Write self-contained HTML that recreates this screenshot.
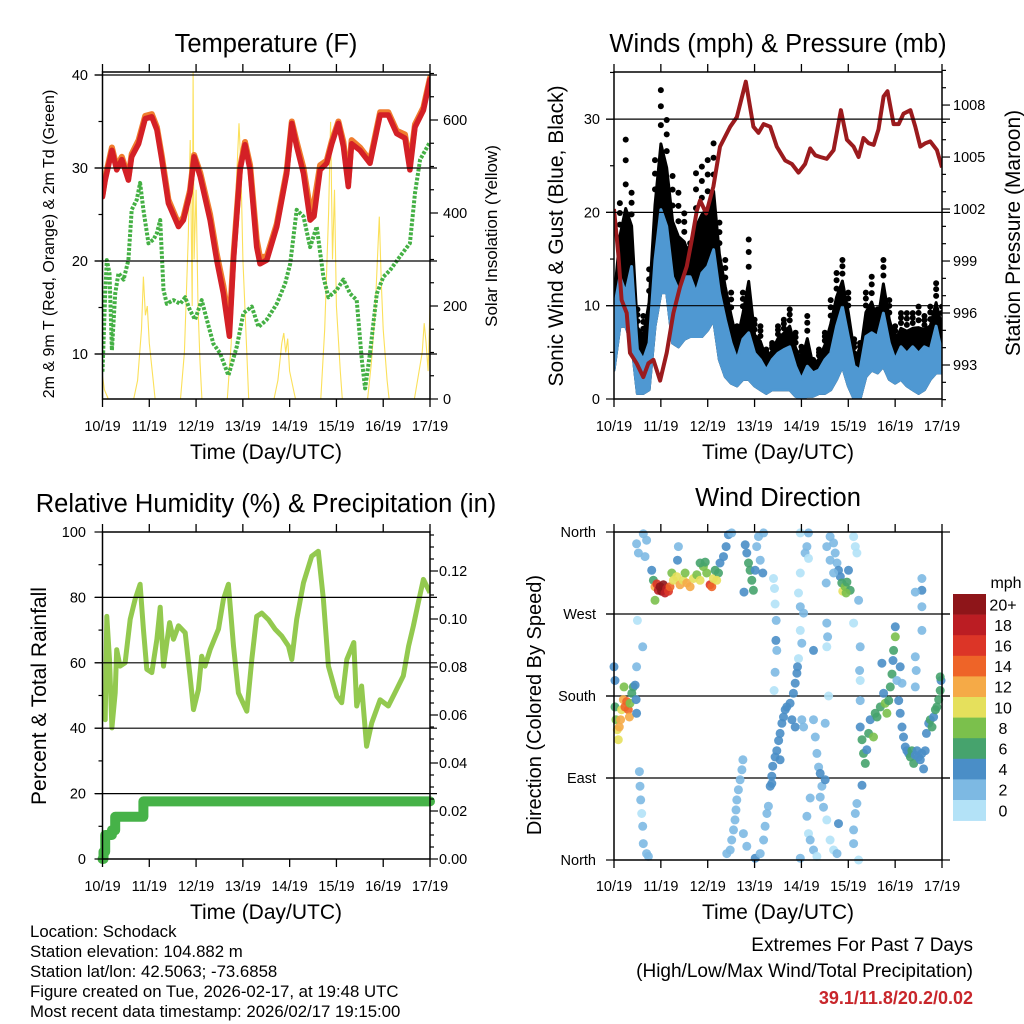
<!DOCTYPE html>
<html><head><meta charset="utf-8"><style>
html,body{margin:0;padding:0;background:#fff;}
svg{display:block;font-family:"Liberation Sans",Arial,sans-serif;}
</style></head><body>
<svg id="fig" width="1024" height="1024" viewBox="0 0 1024 1024" xmlns="http://www.w3.org/2000/svg">
<rect width="1024" height="1024" fill="#fff"/>
<g font-size="25.5" text-anchor="middle" fill="#000">
<text x="266" y="52">Temperature (F)</text>
<text x="778" y="52">Winds (mph) &amp; Pressure (mb)</text>
<text x="266" y="512">Relative Humidity (%) &amp; Precipitation (in)</text>
<text x="778" y="506">Wind Direction</text>
</g>
<g font-size="21" text-anchor="middle" fill="#000">
<text x="266" y="459">Time (Day/UTC)</text>
<text x="778" y="459">Time (Day/UTC)</text>
<text x="266" y="919">Time (Day/UTC)</text>
<text x="778" y="919">Time (Day/UTC)</text>
<text transform="translate(54,244) rotate(-90)" font-size="16">2m &amp; 9m T (Red, Orange) &amp; 2m Td (Green)</text>
<text transform="translate(497,236) rotate(-90)" font-size="17">Solar Insolation (Yellow)</text>
<text transform="translate(563,236) rotate(-90)">Sonic Wind &amp; Gust (Blue, Black)</text>
<text transform="translate(1020,233) rotate(-90)">Station Pressure (Maroon)</text>
<text transform="translate(46,696) rotate(-90)">Percent &amp; Total Rainfall</text>
<text transform="translate(541,705) rotate(-90)" font-size="20">Direction (Colored By Speed)</text>
</g>
<g id="panels"></g>
<g font-size="16.8" fill="#000">
<text x="30" y="937">Location: Schodack</text>
<text x="30" y="957">Station elevation: 104.882 m</text>
<text x="30" y="977">Station lat/lon: 42.5063; -73.6858</text>
<text x="30" y="997">Figure created on Tue, 2026-02-17, at 19:48 UTC</text>
<text x="30" y="1017">Most recent data timestamp: 2026/02/17 19:15:00</text>
</g>
<g text-anchor="end">
<text x="973" y="951" font-size="19">Extremes For Past 7 Days</text>
<text x="973" y="977" font-size="19">(High/Low/Max Wind/Total Precipitation)</text>
<text x="973" y="1004" font-size="18" font-weight="bold" fill="#c8262b">39.1/11.8/20.2/0.02</text>
</g>
</svg>
<script>
// ---------- DATA ----------
const dayLabels = ["10/19","11/19","12/19","13/19","14/19","15/19","16/19","17/19"];
// Temperature (hours since start, deg F)
const tempHours = [0,1.4,4.8,7.3,9.9,13.3,15,18.5,21.9,25.3,27.9,30.4,33.8,39,41.5,44.9,47,50.1,55.2,58.6,62,65.1,67.2,70.6,73.1,75.7,79.1,80.8,84.3,89.4,94.5,97.1,99.6,103.1,106.5,108.5,111.6,115,117.6,121,123.6,126.1,127.8,132.1,137.2,142.4,146.6,150.9,155.2,157.7,160.3,164.6,168];
const temp2m = [26.9,28.7,31.9,29.8,30.9,28.7,31.2,32.6,35.3,35.5,34.1,30.9,26.2,23.7,24.4,27.3,31.2,29.1,24.4,20.1,16.5,11.9,20.1,29.8,32.5,29.8,21.5,19.7,20.1,23.7,29.4,34.8,32.3,29.4,24.4,24.8,29.8,30.5,32.6,34.8,32.3,28,32.6,31.9,30.5,35.7,35.7,33.7,33.2,29.8,34.4,36.2,39.5];
const temp9m = [27.1,29.0,32.2,30.1,31.2,29.0,31.5,33.0,35.6,35.8,34.4,31.3,26.6,24.0,24.7,27.6,31.4,29.5,25.0,20.8,17.3,13.0,20.6,30.1,32.8,30.3,22.3,20.4,20.5,24.0,29.7,35.0,32.8,30.0,25.6,26.2,30.3,30.8,32.9,35.0,32.8,28.5,33.0,32.2,30.8,36.0,36.0,34.0,33.6,30.4,34.7,36.5,39.7];
const dewHours = [0,1.4,2.2,3.6,4.8,6.5,8.2,10.8,13.3,15,17.6,19.3,21,23.6,26.1,27.9,29.6,31.3,33,36.4,39.8,42.4,44.9,47.5,50.9,53.5,56.9,60.3,64.6,68.9,72.3,76.6,80,84.3,89.4,93.7,96.3,99.6,103.1,106.5,109.9,113.3,115.9,120.2,123.6,127,130.4,133,134.7,137.2,140.7,144.1,147.5,152.6,157.7,160.3,162.9,168];
const dewPoint = [8.1,16.5,20.1,18.7,10.4,16.5,18.7,18,20.1,25.5,26.6,28.4,25.5,21.9,22.3,23,24.4,16.9,15.4,15.8,15.4,16.1,14.7,13.7,15.8,13.7,11.1,10.1,7.7,10.8,14.4,15.1,12.9,13.7,15.4,17.6,19.7,25.5,24.8,21.5,23.7,18.3,16.1,16.9,18,16.5,15.8,9.4,6.3,10.1,16.5,18.3,19,20.5,21.9,27.3,30.9,32.8];
// Solar insolation (W/m2)
const solarHours = [0,1,3,16,18,20,21,22,23,24,26,27,40,42,44,45,46,46.5,47,48,49,50,51,64,66,68,70,71,72,74,75,88,90,92,93,94,95,96,98,99,112,114,116,117,118,119,120,122,123,136,138,140,141,142,143,144,146,147,160,162,164,165,166,167,168];
const solarVals = [50,20,0,0,40,150,263,180,200,120,40,0,0,100,350,557,200,703,300,450,200,80,0,0,120,400,593,500,300,100,0,0,40,120,142,100,130,60,20,0,0,150,400,596,300,450,200,60,0,0,80,200,300,392,250,150,40,0,0,50,100,163,120,60,200];
// Winds (3-hourly, mph)
const windHours = [0,3,6,9,12,15,18,21,24,27,30,33,36,39,42,45,48,51,54,57,60,63,66,69,72,75,78,81,84,87,90,93,96,99,102,105,108,111,114,117,120,123,126,129,132,135,138,141,144,147,150,153,156,159,162,165,168];
const gustHigh = [11.4,21,27.8,22.1,9.6,8.9,13.9,25.6,33.1,29.9,23.9,22.1,19.9,16.7,24.2,24.9,25.6,27.4,18.9,14.9,11.4,7.8,11.4,17.1,8.5,7.8,5.3,6,7.8,8.5,9.6,7.1,5.6,8.9,4.2,5.3,7.1,10.6,13.5,14.9,11.4,6.4,6,11.4,13.1,9.6,14.9,10.6,7.8,9.2,9.2,9.2,9.9,8.9,9.9,12.4,9.9];
const windHigh = [9.6,13.1,11.4,14.2,5.3,4.2,6,14.9,20.3,18.5,13.1,11.7,13.1,13.1,11.4,13.5,14.2,16,11.4,8.5,6,4.2,6.4,7.1,4.9,4.2,3.1,4.2,4.9,5.3,5.6,3.5,2.1,3.5,2.8,3.1,4.2,4.9,7.8,9.9,6.7,3.5,3.1,6.7,7.1,6.7,9.2,6,4.2,5.6,4.9,5.6,4.9,5.6,5.3,7.8,4.9];
const windLow = [3.1,7.8,7.8,6,0.6,0.6,1,7.8,11.4,11.4,6,5.6,6.4,6.7,6.7,6.7,7.4,8.5,4.2,2.4,1.7,1.4,2.1,2.1,1.4,1,0.6,1,1,1,1,0.3,0,0.3,0.3,0.6,0.6,1,2.1,3.5,1.4,0,0,2.4,3.1,2.8,3.5,2.1,1.7,2.1,1.4,1,0.6,1,2.1,2.8,2.8];
// Pressure (mb)
const presHours = [0,2.2,3.9,6.5,8.2,11.6,15,17.6,20.2,23.6,27,30.4,33.8,37.3,39.8,42.4,44.1,47.2,50.9,54.3,59.5,62.9,67.5,71.4,74,76.6,80,83.4,87.7,91.1,94.5,97.9,100.5,103.1,105.6,109,112.5,116.2,119.3,122.7,125.3,127.8,130.4,133,135.5,138.1,140.1,143.2,145.8,148.3,151.8,154.3,156.9,159.5,162,165.4,168];
const pressure = [1002,999.4,996.75,996,993.7,993.1,992.3,993.1,993.3,992.1,993.7,996,997.5,998.7,1000.2,1001.9,1002.5,1001.75,1003.3,1005.6,1006.75,1007.3,1009.35,1006.75,1006.4,1006.9,1006.75,1005.6,1004.8,1004.6,1004.1,1004.6,1005.5,1005.1,1005,1004.9,1005.4,1007.7,1006,1005.6,1005,1006.1,1005.8,1005.7,1006.6,1008.5,1008.8,1006.9,1006.9,1007.5,1007.7,1006.75,1005.6,1005.8,1005.9,1005.4,1004.4];
// Relative humidity (%)
const rhHours = [0,1.4,2.2,3.6,4.8,6.5,7.3,9,11.6,14.2,16.7,19.3,21,22.7,25.3,27.9,29.6,31.3,34.4,36.4,39,42.4,44.9,46.7,49.2,50.9,52.6,55.2,59.5,62,64.6,67.2,69.7,74,76.6,79.1,81.7,85.1,88.5,91.9,95.4,97.1,99.6,103.1,107.3,110.7,113.3,115.9,120.2,122.7,125.3,128.9,130.4,132.9,135.5,138.1,142.4,146.6,150,154.3,157,159.5,162,164.6,168];
const rhVals = [44.6,42.6,74.2,61,40.1,50.8,64,59,60,73.3,79.4,84,70.3,58,57,67.2,77,59,72.3,67.2,71.3,69.2,56,45.7,51.8,62,59,64,70.3,79.4,84,65.1,50.8,45.2,61,74.2,75.2,73.2,70.3,68.2,65.1,61,73.3,84.5,92.6,94.1,79.4,59,49.8,47.8,61,66.2,46.8,52.9,34.5,41.6,48.7,46.8,50.8,56,65.1,71.3,78.4,85.5,81.4,77.8];
// Precipitation accumulation (in)
const precipHours = [0,0.5,1.4,4.8,6.5,19.3,21,168];
const precipVals = [0,0.003,0.010,0.012,0.0176,0.0176,0.024,0.024];
// Wind direction observations
const dirHours = [0,0.5,0.5,1,1.7,2.2,2.7,3.4,3.9,4.8,5.6,6.5,7.3,7.9,8.2,9.1,9.9,10.8,11.3,11.6,5.1,
11.6,12.5,15,16.7,15.9,12,14.7,11.6,13,13.3,13.7,14.2,14.7,15,16.7,17.6,
19.3,20.2,21,21.9,22.7,23.6,24.4,25.3,26.1,27,27.9,28.7,29.6,30.4,32.1,33.8,35.5,37.3,39,40.7,42.4,44.1,45.8,46.7,47.5,49.2,50.1,50.9,51.8,53.5,54.3,56.1,57.4,58.6,60.3,21,36.4,44.1,52.6,33,32.5,
67.2,68,68.9,69.7,70.6,71.4,72.3,73.1,74,74.9,76.2,66.6,76.6,
81.7,82.2,82.5,83.1,82.9,83.4,82.5,82,
95.4,99.6,98.8,97.9,99.6,95.4,94.5,95.4,97.1,95.4,96.2,94.5,
57.8,59.5,60.3,61.2,62,62.5,62.9,63.7,64.6,65.5,66,66.3,68,72.3,74.9,76.6,77.4,78.3,79.1,80,80.8,81.3,82.5,83.4,84.3,85.1,86,86.8,87.7,88.5,90.2,91.1,91.9,92.8,93.7,94,92.8,85.1,80.8,95.4,
96.2,97.1,102.2,103.1,103.9,104.8,105.6,106.5,105.6,107.3,108.2,98.8,99.6,100.5,102.2,103.9,109,110.7,112.5,114.2,115,100.5,109.9,108.2,
110.7,112.5,113.3,114.2,115,115.9,116.7,117.2,118.4,119.3,120.1,121,118.9,122.7,123.6,124.4,109,110.7,112.5,108.7,125.3,122.7,109,109.4,109,102.2,
126.1,125.8,126.1,126.1,126.1,127,127.8,128.7,129.5,130.4,131.2,132.9,133.8,134.7,136.4,137.2,138.1,138.9,139.8,140.7,141.5,142.4,142.9,143.2,144.1,144.1,144.9,145.8,146.6,147.5,148.3,149.2,150,150.9,151.8,152.6,153.5,154.3,155.2,156,156.9,157.7,158.6,159.4,160,161.2,162,162.9,163.7,164.6,165.4,166.3,167.1,167.5,167.1,154.3,154.8,154.3,157.7,157.7,157.7,157.7,154.3,127,124.4,123.6,122.7,122.7,125.3,146.6,147.5];
const dirDegrees = [212,197,168,154,143,132,146,154,165,176,168,174,165,157,172,183,190,192,176,161,190,
347,337,358,351,333,263,234,212,97,81,66,51,37,18,7,4,
318,307,300,303,296,300,295,302,293,298,295,300,315,307,311,302,307,304,300,309,313,307,322,327,315,302,300,309,318,315,326,333,344,357,359,285,315,326,307,344,329,
346,337,326,318,307,296,318,344,355,329,315,294,359,
309,298,281,263,241,230,206,186,
359,359,344,337,331,315,293,278,271,252,238,221,
7,11,22,33,44,55,66,77,88,99,110,29,15,2,7,22,37,51,59,81,92,103,113,120,131,139,150,157,165,168,172,154,183,194,205,212,146,110,84,2,
154,146,154,135,117,102,95,81,69,58,88,48,29,22,11,4,44,22,11,7,40,68,180,150,
355,348,337,326,318,311,304,295,300,305,318,296,293,355,344,337,344,329,315,304,285,260,260,245,234,230,
234,208,197,175,146,132,117,106,121,139,154,135,161,157,168,216,183,172,161,175,190,204,219,230,245,256,197,175,161,146,135,124,120,117,113,120,106,115,120,113,110,117,100,120,139,150,154,146,157,165,168,176,186,197,201,223,208,190,252,309,296,278,294,82,62,51,33,18,0,212,194];
const dirSpeeds = [4,4,6,8,10,10,12,12,10,12,14,14,14,12,8,6,6,4,4,4,8,
2,2,2,2,2,0,2,2,2,2,2,0,2,2,2,2,
4,6,12,16,18,20,20,20,18,18,16,14,8,10,10,12,10,12,12,10,8,10,8,6,8,16,14,10,6,6,4,4,4,4,2,8,8,6,10,2,4,
4,4,6,6,6,6,4,2,2,2,4,4,2,
0,0,0,2,4,2,2,0,
0,2,2,2,0,0,0,2,2,0,2,0,
2,2,2,2,2,2,2,2,2,2,2,2,2,4,2,2,2,2,2,4,4,4,4,4,4,4,4,4,4,4,4,4,4,4,4,4,4,4,4,2,
2,2,2,2,2,2,4,2,2,2,4,2,0,2,2,0,0,0,0,2,4,2,0,2,
2,2,2,2,4,4,6,10,8,6,4,6,8,0,0,0,2,2,2,2,2,0,2,2,0,4,
2,2,0,2,4,6,6,6,4,6,4,8,6,6,6,4,4,8,8,6,6,6,4,6,8,4,2,4,4,4,4,4,4,4,6,6,6,4,4,4,4,4,4,4,4,4,6,6,4,6,6,6,6,4,6,2,2,2,2,2,4,2,2,4,2,2,2,2,0,4,2];
// Colour bar
const speedBins = [0,2,4,6,8,10,12,14,16,18,20];
const speedLabels = ["0","2","4","6","8","10","12","14","16","18","20+"];
const speedColors = ["#b3e2f7","#7db9e3","#4a8ec7","#46a36d","#7bc04c","#e5e05c","#f5aa47","#ee6428","#dc3527","#bb1d23","#8e1519"];

// ---------- DRAWING ----------
const NS = "http://www.w3.org/2000/svg";
const root = document.getElementById("panels");
function mk(tag, attrs, parent){ const e=document.createElementNS(NS,tag); for(const k in attrs) e.setAttribute(k,attrs[k]); (parent||root).appendChild(e); return e; }
function line(x1,y1,x2,y2,stroke,w,parent){ return mk("line",{x1,y1,x2,y2,stroke,"stroke-width":w},parent); }
function txt(x,y,s,size,anchor,parent){ const t=mk("text",{x,y,"font-size":size,"text-anchor":anchor,fill:"#000"},parent); t.textContent=s; return t; }
function pathFrom(xs,ys,fx,fy){ return xs.map((h,i)=>(i?"L":"M")+fx(h).toFixed(1)+","+fy(ys[i]).toFixed(1)).join(""); }

function makePanel(name,x0,x1,y0,y1){
  const g=mk("g",{});
  
  
  const fx=h=>x0+(x1-x0)*h/168;
  return {g,fx,x0,x1,y0,y1};
}
function clip(id,p){ const c=mk("clipPath",{id},p.g); mk("rect",{x:p.x0,y:p.y0,width:p.x1-p.x0,height:p.y1-p.y0},c); }
function frame(p,labelY){
  const g=p.g;
  const fr=mk("rect",{x:p.x0,y:p.y0,width:p.x1-p.x0,height:p.y1-p.y0,fill:"none",stroke:"#000","stroke-width":1.5},g);
  
  
  for(let d=0; d<=7; d++){
    const x=p.fx(d*24);
    line(x,p.y1,x,p.y1+8,"#000",1.3,g);
    line(x,p.y0,x,p.y0-8,"#000",1.3,g);
    const t=txt(x,labelY,dayLabels[d],14.5,"middle",g);
    
    
  }
}

// ===== Temperature panel =====
(function(){
  const p=makePanel("temperature-panel",102.5,430,72,399);
  const fy=v=>354-(v-10)*9.3, fs=s=>399-s*0.465;
  clip("clipT",p);
  const cg=mk("g",{"clip-path":"url(#clipT)"},p.g);
  const sol=mk("path",{d:pathFrom(solarHours,solarVals,p.fx,fs),fill:"none",stroke:"#fbe05a","stroke-width":1.1},cg);
  
  
  [10,20,30,40].forEach(v=>{ const l=line(95,fy(v),437,fy(v),"#000",1.2,p.g);   });
  const dp=mk("path",{d:pathFrom(dewHours,dewPoint,p.fx,fy),fill:"none",stroke:"#44b044","stroke-width":4,"stroke-dasharray":"3 1.6","stroke-linejoin":"round"},cg);
  
  
  const t9=mk("path",{d:pathFrom(tempHours,temp9m,p.fx,fy),fill:"none",stroke:"#f07d2e","stroke-width":6,"stroke-linejoin":"round","stroke-linecap":"round"},cg);
  
  
  const t2=mk("path",{d:pathFrom(tempHours,temp2m,p.fx,fy),fill:"none",stroke:"#d42026","stroke-width":5.5,"stroke-linejoin":"round","stroke-linecap":"round"},cg);
  
  
  frame(p,431);
  for(let v=10;v<=40;v+=5){ line(p.x0-(v%10?4:8),fy(v),p.x0,fy(v),"#000",1.2,p.g); }
  [10,20,30,40].forEach(v=>{ const t=txt(88,fy(v)+5,String(v),14.5,"end",p.g);   });
  for(let s=0;s<=700;s+=50){ line(p.x1,fs(s),p.x1+(s%200?4:8),fs(s),"#000",1.2,p.g); }
  [0,200,400,600].forEach(s=>{ const t=txt(443,fs(s)+5,String(s),14.5,"start",p.g);   });
})();

// ===== Winds panel =====
(function(){
  const p=makePanel("winds-panel",614,942,72,399);
  const fy=v=>399-v*9.33, fp=v=>365-(v-993)*17.33;
  clip("clipW",p);
  const cg=mk("g",{"clip-path":"url(#clipW)"},p.g);
  const band=(hiF,lo)=>{ let d=windHours.map((h,i)=>(i?"L":"M")+p.fx(h).toFixed(1)+","+fy(hiF(i)).toFixed(1)).join(""); for(let i=windHours.length-1;i>=0;i--) d+="L"+p.fx(windHours[i]).toFixed(1)+","+fy(lo[i]).toFixed(1); return d+"Z"; };
  const gb=mk("path",{d:band(i=>windHigh[i]+0.55*(gustHigh[i]-windHigh[i]),windLow),fill:"#000",stroke:"#000","stroke-width":3,"stroke-linejoin":"round"},cg);
  
  
  gustHigh.forEach((v,i)=>{
    const base=windHigh[i]+0.55*(v-windHigh[i]);
    [base+(v-base)*0.35, base+(v-base)*0.7, v].forEach(vv=>{
      const c=mk("circle",{cx:p.fx(windHours[i]),cy:fy(vv),r:3,fill:"#000"},cg);
      
      
    });
  });
  const wb=mk("path",{d:band(i=>windHigh[i],windLow),fill:"#4f98d2",stroke:"#4f98d2","stroke-width":3,"stroke-linejoin":"round"},cg);
  
  
  [10,20,30].forEach(v=>{ const l=line(p.x0-8,fy(v),p.x1+8,fy(v),"#000",1.2,p.g);   });
  const pr=mk("path",{d:pathFrom(presHours,pressure,p.fx,fp),fill:"none",stroke:"#9b1b1e","stroke-width":4,"stroke-linejoin":"round"},cg);
  
  
  frame(p,431);
  for(let v=0;v<=35;v+=5){ line(p.x0-(v%10?4:8),fy(v),p.x0,fy(v),"#000",1.2,p.g); }
  [0,10,20,30].forEach(v=>{ const t=txt(600,fy(v)+5,String(v),14.5,"end",p.g);   });
  for(let v=991;v<=1010;v++){ line(p.x1,fp(v),p.x1+((v-993)%3?4:8),fp(v),"#000",1.2,p.g); }
  [993,996,999,1002,1005,1008].forEach(v=>{ const t=txt(953,fp(v)+5,String(v),14.5,"start",p.g);   });
})();

// ===== RH panel =====
(function(){
  const p=makePanel("humidity-panel",102.5,430,532,859);
  const fy=v=>859-v*3.27, fpr=v=>859-v*2400;
  clip("clipR",p);
  const cg=mk("g",{"clip-path":"url(#clipR)"},p.g);
  [20,40,60,80].forEach(v=>{ const l=line(95,fy(v),437,fy(v),"#000",1.2,p.g);   });
  const rh=mk("path",{d:pathFrom(rhHours,rhVals,p.fx,fy),fill:"none",stroke:"#93c94f","stroke-width":5,"stroke-linejoin":"round"},cg);
  
  
  let d=""; precipHours.forEach((h,i)=>{ const x=p.fx(h).toFixed(1), y=fpr(precipVals[i]).toFixed(1); d+= i? "L"+x+","+fpr(precipVals[i-1]).toFixed(1)+"L"+x+","+y : "M"+x+","+y; });
  const pc=mk("path",{d,fill:"none",stroke:"#46b248","stroke-width":10,"stroke-linejoin":"round","stroke-linecap":"round"},p.g);
  
  
  frame(p,891);
  for(let v=0;v<=100;v+=10){ line(p.x0-(v%20?4:8),fy(v),p.x0,fy(v),"#000",1.2,p.g); }
  [0,20,40,60,80,100].forEach(v=>{ const t=txt(86,fy(v)+5,String(v),14.5,"end",p.g);   });
  for(let k=0;k<=27;k++){ const v=k*0.005; line(p.x1,fpr(v),p.x1+(k%4?4:8),fpr(v),"#000",1.2,p.g); }
  [0,0.02,0.04,0.06,0.08,0.10,0.12].forEach(v=>{ const t=txt(439,fpr(v)+5,v.toFixed(2),14.5,"start",p.g);   });
})();

// ===== Wind direction panel =====
(function(){
  const p=makePanel("wind-direction-panel",614,942,532,860);
  const fy=d=>860-d/360*328;
  [90,180,270].forEach(v=>{ const l=line(p.x0-8,fy(v),p.x1+8,fy(v),"#000",1.2,p.g);   });
  const colorOf=s=>{ let k=0; speedBins.forEach((b,i)=>{ if(s>=b) k=i; }); return speedColors[k]; };
  dirHours.forEach((h,i)=>{
    const c=mk("circle",{cx:p.fx(h).toFixed(1),cy:fy(dirDegrees[i]).toFixed(1),r:4.5,fill:colorOf(dirSpeeds[i]),"fill-opacity":0.9},p.g);
    
    
  });
  frame(p,891);
  const names=["North","East","South","West","North"];
  [0,90,180,270,360].forEach((v,i)=>{ line(p.x0-8,fy(v),p.x0,fy(v),"#000",1.2,p.g); line(p.x1,fy(v),p.x1+8,fy(v),"#000",1.2,p.g); const t=txt(596,fy(v)+5,names[i],14.5,"end",p.g);   });
  // colour bar
  const cb=mk("g",{});
  
  
  const h=20.6, top=594;
  for(let i=0;i<speedBins.length;i++){
    const k=speedBins.length-1-i;
    const r=mk("rect",{x:953,y:top+i*h,width:33,height:h+0.3,fill:speedColors[k]},cb);
    
    
    const t=txt(1003,top+i*h+h/2+6,speedLabels[k],16,"middle",cb);
    
    
  }
  const u=txt(1006,588,"mph",16,"middle",cb);
  
  
})();
</script>
</body></html>
